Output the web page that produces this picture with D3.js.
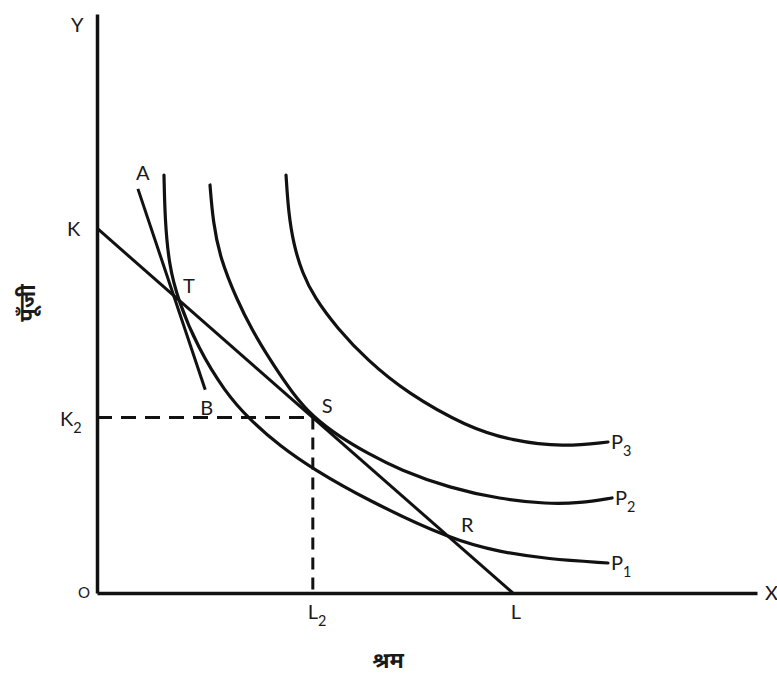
<!DOCTYPE html>
<html>
<head>
<meta charset="utf-8">
<script src="https://cdn.jsdelivr.net/npm/d3@7"></script>
<style>
  html, body { margin: 0; padding: 0; background: #fff; }
  svg { display: block; }
  text { font-family: Lato, "Open Sans", "Noto Sans", sans-serif; fill: #1a1a1a; }
</style>
</head>
<body>
<script>
// ---- data (chart units) ----
const isoquantNames = ["P1", "P2", "P3"];
const P1 = [[1.015,7.219],[1.030,6.442],[1.091,5.665],[1.227,5.060],[1.530,4.231],[1.939,3.472],[2.318,2.988],[2.773,2.539],[3.273,2.142],[4.091,1.606],[5.379,0.915],[6.106,0.708],[6.818,0.587],[7.742,0.518]];
const P2 = [[1.712,7.047],[1.758,6.408],[1.864,5.786],[2.121,5.060],[2.348,4.542],[2.652,3.972],[2.970,3.437],[3.273,3.040],[3.682,2.694],[4.091,2.418],[4.591,2.124],[5.348,1.813],[6.106,1.623],[6.818,1.537],[7.318,1.554],[7.803,1.641]];
const P3 = [[2.864,7.219],[2.900,6.580],[2.980,6.010],[3.110,5.530],[3.290,5.110],[3.636,4.577],[4.091,4.024],[4.697,3.454],[5.606,2.867],[6.303,2.625],[7.061,2.522],[7.742,2.608]];
const isoLabels = [["P","1"],["P","2"],["P","3"]];
const budgetKL = [[0,6.3],[6.3,0]];        // K - L
const lineAB = [[0.62,6.98],[1.64,3.51]];   // A - B
const K2 = 3.03, L2 = 3.27;
const xTickVals = [L2, 6.3];
const xTickLabels = [["L","2"],["L",""]];
const yTickVals = [K2, 6.3];
const yTickLabels = [["K","2"],["K",""]];
const pointNames = ["T","S","R"];
const pointVals = [[1.227,5.06],[3.27,3.03],[5.379,0.915]];
const axisTitleX = "श्रम";
const axisTitleY = "पूँजी";

// ---- drawing ----
const W = 777, H = 677;
const svg = d3.select("body").append("svg").attr("width", W).attr("height", H);
const x = d3.scaleLinear().domain([0, 10]).range([97, 757]);
const y = d3.scaleLinear().domain([0, 10]).range([593, 14]);
const ink = "#111";

// axes
const gx = svg.append("g").attr("transform", `translate(0,${y(0)})`)
  .call(d3.axisBottom(x).tickValues([]).tickSizeOuter(0));
const gy = svg.append("g").attr("transform", `translate(${x(0)},0)`)
  .call(d3.axisLeft(y).tickValues([]).tickSizeOuter(0));
[gx, gy].forEach(g => g.select(".domain").attr("stroke", ink).attr("stroke-width", 3.5));

function subText(px, py, parts, size, anchor) {
  const t = svg.append("text").attr("x", px).attr("y", py)
    .attr("font-size", size).attr("text-anchor", anchor || "start");
  t.append("tspan").text(parts[0]);
  if (parts[1]) t.append("tspan").attr("font-size", size * 0.72).attr("dy", 7).text(parts[1]);
  return t;
}

// dashed guide lines
svg.append("line").attr("x1", x(0)).attr("y1", y(K2)).attr("x2", x(L2)).attr("y2", y(K2))
  .attr("stroke", ink).attr("stroke-width", 3).attr("stroke-dasharray", "15,9");
svg.append("line").attr("x1", x(L2)).attr("y1", y(K2)).attr("x2", x(L2)).attr("y2", y(0))
  .attr("stroke", ink).attr("stroke-width", 3).attr("stroke-dasharray", "12,8");

const line = d3.line().x(d => x(d[0])).y(d => y(d[1]));
const curve = d3.line().x(d => x(d[0])).y(d => y(d[1])).curve(d3.curveBasis);

// straight lines
svg.append("path").attr("d", line(budgetKL)).attr("fill", "none").attr("stroke", ink).attr("stroke-width", 3);
svg.append("path").attr("d", line(lineAB)).attr("fill", "none").attr("stroke", ink).attr("stroke-width", 3);

// isoquants
[P1, P2, P3].forEach((pts, i) => {
  svg.append("path").attr("class", isoquantNames[i]).attr("d", curve(pts))
    .attr("fill", "none").attr("stroke", ink).attr("stroke-width", 3.2).attr("stroke-linecap", "round");
  const last = pts[pts.length - 1];
  subText(x(last[0]) + 3, y(last[1]) + 7, isoLabels[i], 20);
});

// axis tick labels
xTickVals.forEach((v, i) => subText(x(v) - 5 + (i ? 3 : 0), y(0) + 26, xTickLabels[i], 20));
yTickVals.forEach((v, i) => subText(x(0) - 37 + (i ? 7 : 0), y(v) + 8, yTickLabels[i], 20));

// A, B labels
svg.append("text").attr("x", x(lineAB[0][0]) - 2).attr("y", y(lineAB[0][1]) - 9).attr("font-size", 20).text("A");
svg.append("text").attr("x", x(lineAB[1][0]) - 5).attr("y", y(lineAB[1][1]) + 25).attr("font-size", 20).text("B");

// point labels
const pOff = [[5, -7], [9, -5], [9, -8]];
pointVals.forEach((p, i) => {
  svg.append("text").attr("x", x(p[0]) + pOff[i][0]).attr("y", y(p[1]) + pOff[i][1]).attr("font-size", 20).text(pointNames[i]);
});

// axis end labels
svg.append("text").attr("x", 71).attr("y", 32).attr("font-size", 20).text("Y");
svg.append("text").attr("x", 765).attr("y", 600).attr("font-size", 20).text("X");
svg.append("text").attr("x", 84).attr("y", 598).attr("font-size", 15).attr("text-anchor", "middle").text("O");

// axis titles
svg.append("text").attr("x", 388).attr("y", 668).attr("font-size", 22).attr("font-weight", "bold")
  .attr("text-anchor", "middle").style("font-family", "'Noto Sans', 'DejaVu Sans', sans-serif").text(axisTitleX);
svg.append("text").attr("transform", "translate(35,303) rotate(-90)").attr("font-size", 22).attr("font-weight", "bold")
  .attr("text-anchor", "middle").style("font-family", "'Noto Sans', 'DejaVu Sans', sans-serif").text(axisTitleY);
</script>
</body>
</html>
